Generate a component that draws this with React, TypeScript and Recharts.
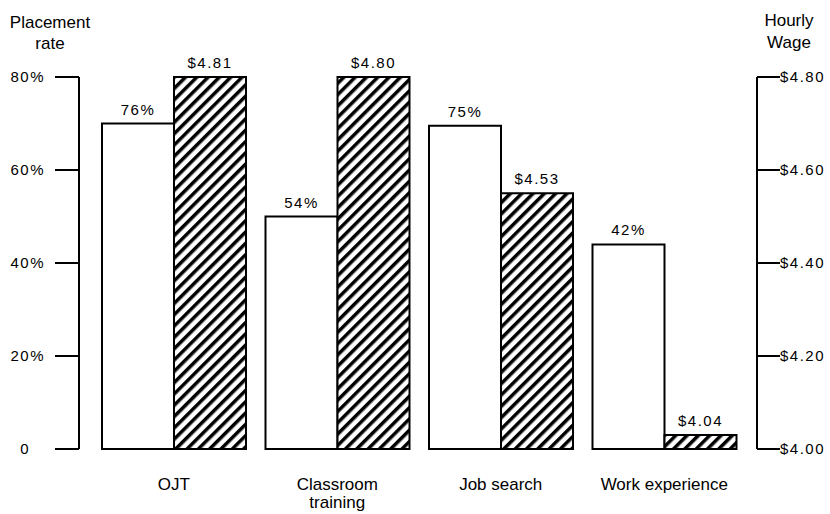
import React from "react";
import { BarChart, Bar, XAxis, YAxis, LabelList } from "recharts";

const categories = ["OJT", "Classroom\ntraining", "Job search", "Work experience"];
// bar heights as drawn in the picture
const placementRate = [70, 50, 69.5, 44];
const hourlyWage = [4.8, 4.8, 4.55, 4.03];
// printed values above the bars
const placementLabels = ["76%", "54%", "75%", "42%"];
const wageLabels = ["$4.81", "$4.80", "$4.53", "$4.04"];
const rateTicks = [0, 20, 40, 60, 80];
const wageTicks = [4.0, 4.2, 4.4, 4.6, 4.8];

const data = categories.map((name, i) => ({
  name,
  rate: placementRate[i],
  rateLabel: placementLabels[i],
  wage: hourlyWage[i],
  wageLabel: wageLabels[i],
}));

const FONT = '"Liberation Sans", Arial, Helvetica, sans-serif';
const INK = "#000";

function CategoryTick({ x, y, payload }: any) {
  const lines = String(payload.value).split("\n");
  return (
    <text x={x} y={y} textAnchor="middle" fill={INK} fontSize={17} fontFamily={FONT}>
      {lines.map((l, i) => (
        <tspan key={i} x={x} dy={i === 0 ? 41 : 18}>
          {l}
        </tspan>
      ))}
    </text>
  );
}

function RateTick({ x, y, payload }: any) {
  const v = payload.value;
  return (
    <text
      x={v === 0 ? x - 15 : x}
      y={y}
      dy={5}
      textAnchor="end"
      fill={INK}
      fontSize={15}
      letterSpacing={1.5}
      fontFamily={FONT}
    >
      {v === 0 ? "0" : `${v}%`}
    </text>
  );
}

function WageTick({ x, y, payload }: any) {
  return (
    <text x={x} y={y} dy={5} textAnchor="start" fill={INK} fontSize={15} letterSpacing={1.5} fontFamily={FONT}>
      {`$${Number(payload.value).toFixed(2)}`}
    </text>
  );
}

const barLabel = (p: any) => (
  <text
    x={p.x + p.width / 2}
    y={p.y - 9}
    textAnchor="middle"
    fill={INK}
    fontSize={15}
    letterSpacing={1.5}
    fontFamily={FONT}
  >
    {p.value}
  </text>
);

const axisStroke = { stroke: INK, strokeWidth: 2 };

export default function App() {
  return (
    <div style={{ position: "absolute", left: 0, top: 0, width: 830, height: 514, background: "#fff", fontFamily: FONT }}>
      <BarChart
        width={830}
        height={514}
        data={data}
        margin={{ top: 77, right: 0, bottom: 0, left: 0 }}
        barGap={0}
      >
        <defs>
          <pattern id="hatch" patternUnits="userSpaceOnUse" width="8" height="8" patternTransform="rotate(45)">
            <rect width="8" height="8" fill="#fff" />
            <rect x="0" y="0" width="3.5" height="8" fill={INK} />
          </pattern>
        </defs>
        <XAxis
          dataKey="name"
          interval={0}
          axisLine={false}
          tickLine={false}
          tickSize={0}
          tickMargin={0}
          height={65}
          padding={{ left: 13, right: 11 }}
          tick={<CategoryTick />}
        />
        <YAxis
          yAxisId="rate"
          orientation="left"
          width={79}
          domain={[0, 80]}
          ticks={rateTicks}
          tickSize={24}
          tickMargin={10}
          axisLine={axisStroke}
          tickLine={axisStroke}
          tick={<RateTick />}
        />
        <YAxis
          yAxisId="wage"
          orientation="right"
          width={73}
          domain={[4, 4.8]}
          ticks={wageTicks}
          tickSize={23}
          tickMargin={0}
          axisLine={axisStroke}
          tickLine={axisStroke}
          tick={<WageTick />}
        />
        <Bar
          yAxisId="rate"
          dataKey="rate"
          fill="#fff"
          stroke={INK}
          strokeWidth={2}
          barSize={72}
          isAnimationActive={false}
        >
          <LabelList dataKey="rateLabel" content={barLabel} />
        </Bar>
        <Bar
          yAxisId="wage"
          dataKey="wage"
          fill="url(#hatch)"
          stroke={INK}
          strokeWidth={2}
          barSize={72}
          isAnimationActive={false}
        >
          <LabelList dataKey="wageLabel" content={barLabel} />
        </Bar>
      </BarChart>
      <div
        style={{
          position: "absolute",
          left: 0,
          top: 12,
          width: 100,
          textAlign: "center",
          fontSize: 17,
          lineHeight: "21px",
          color: INK,
        }}
      >
        Placement
        <br />
        rate
      </div>
      <div
        style={{
          position: "absolute",
          left: 739,
          top: 10,
          width: 100,
          textAlign: "center",
          fontSize: 17,
          lineHeight: "22px",
          color: INK,
        }}
      >
        Hourly
        <br />
        Wage
      </div>
    </div>
  );
}
